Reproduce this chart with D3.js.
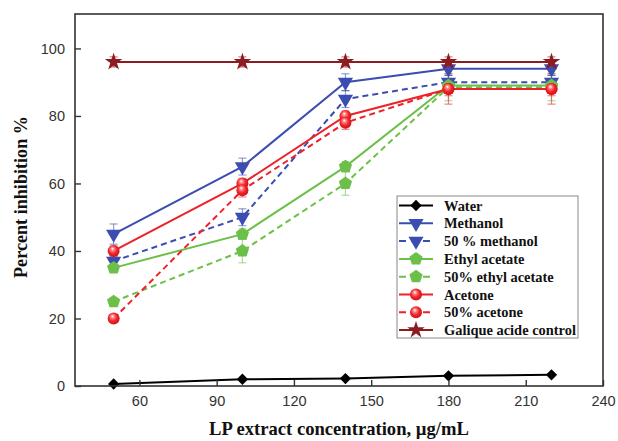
<!DOCTYPE html>
<html>
<head>
<meta charset="utf-8">
<script src="https://cdn.jsdelivr.net/npm/d3@7"></script>
<style>
  body { margin: 0; background: #fff; }
  svg { display: block; }
  .tick_label { font-family: "Liberation Sans", Arial, sans-serif; font-size: 14.5px; fill: #333; }
  .axis_title { font-family: "Liberation Serif", "Times New Roman", serif; font-weight: bold; font-size: 15px; fill: #111; }
  .legend_text { font-family: "Liberation Serif", "Times New Roman", serif; font-weight: bold; font-size: 13px; fill: #111; }
</style>
</head>
<body>
<svg id="chart" width="618" height="441"></svg>
<script>
// concentrations (µg/mL)
const concentrations = [50, 100, 140, 180, 220]

const xTicks = [60, 90, 120, 150, 180, 210, 240]
const yTicks = [0, 20, 40, 60, 80, 100]

// percent inhibition
const water          = [0.6, 2, 2.2, 3, 3.3]
const methanol       = [45, 65, 90, 94, 94]
const methanol50     = [37, 50, 85, 90, 90]
const ethylAcetate   = [35, 45, 65, 89, 89]
const ethylAcetate50 = [25, 40, 60, 88.5, 88.5]
const acetone        = [40, 60, 80, 88, 88]
const acetone50      = [20, 58, 78, 88, 88]
const galique        = [96, 96, 96, 96, 96]

// error bars (±)
const waterErr          = [0, 0, 0, 0, 0]
const methanolErr       = [3, 2.5, 2.5, 2, 2]
const methanol50Err     = [1.5, 2.5, 2.5, 2, 2]
const ethylAcetateErr   = [1, 1.5, 1.5, 2, 2]
const ethylAcetate50Err = [1, 3.5, 3.5, 4, 4]
const acetoneErr        = [1.5, 1.5, 1.5, 2, 2]
const acetone50Err      = [1, 2, 2, 4.5, 4.5]
const galiqueErr        = [1.5, 1.5, 1.5, 1.5, 1.5]

const seriesNames = ["Water", "Methanol", "50 % methanol", "Ethyl acetate",
    "50% ethyl acetate", "Acetone", "50% acetone", "Galique acide control"]

/**
 * Margins of the visualization.
 */
const margin = { top: 14, bottom: 55, left: 75, right: 15 }

let svg = d3.select("#chart")
let width = 618
let height = 441

const xScale = d3.scaleLinear()
    .domain([35, 240])
    .range([margin.left, width - margin.right])

const yScale = d3.scaleLinear()
    .domain([0, 110.2])
    .range([height - margin.bottom, margin.top])

/**
 * Custom pentagon symbol
 */
const symbolPentagon = {
    draw(context, size) {
        const r = Math.sqrt(size / 2.378)
        for (let i = 0; i < 5; i++) {
            const a = -Math.PI / 2 + i * 2 * Math.PI / 5
            const x = r * Math.cos(a), y = r * Math.sin(a)
            if (i === 0) context.moveTo(x, y); else context.lineTo(x, y)
        }
        context.closePath()
    }
}

const blue = "#3b4db0"
const green = "#6cc04a"
const red = "#ec2227"
const darkred = "#8e1b1f"

const series = [
    { name: seriesNames[0], values: water, err: waterErr, color: "#000", dash: null, shape: "diamond" },
    { name: seriesNames[1], values: methanol, err: methanolErr, color: blue, dash: null, shape: "triangle" },
    { name: seriesNames[2], values: methanol50, err: methanol50Err, color: blue, dash: "6,4", shape: "triangle" },
    { name: seriesNames[3], values: ethylAcetate, err: ethylAcetateErr, color: green, dash: null, shape: "pentagon" },
    { name: seriesNames[4], values: ethylAcetate50, err: ethylAcetate50Err, color: green, dash: "6,4", shape: "pentagon" },
    { name: seriesNames[5], values: acetone, err: acetoneErr, color: red, dash: null, shape: "circle" },
    { name: seriesNames[6], values: acetone50, err: acetone50Err, color: red, dash: "6,4", shape: "circle" },
    { name: seriesNames[7], values: galique, err: galiqueErr, color: darkred, dash: null, shape: "star" },
]

let defs = svg.append("defs")
let grad = defs.append("radialGradient").attr("id", "ball")
    .attr("cx", "0.45").attr("cy", "0.45").attr("r", "0.6")
    .attr("fx", "0.4").attr("fy", "0.3")
grad.append("stop").attr("offset", "0%").attr("stop-color", "#fff")
grad.append("stop").attr("offset", "25%").attr("stop-color", "#ff8080")
grad.append("stop").attr("offset", "60%").attr("stop-color", red)
grad.append("stop").attr("offset", "100%").attr("stop-color", "#c81418")

function drawMarker(g, shape, color, x, y) {
    if (shape === "circle") {
        g.append("circle").attr("cx", x).attr("cy", y).attr("r", 6)
            .attr("fill", "url(#ball)")
        return
    }
    let sym, size, rot = 0
    if (shape === "diamond") { sym = d3.symbolSquare; size = 64; rot = 45 }
    if (shape === "triangle") { sym = d3.symbolTriangle; size = 100; rot = 180 }
    if (shape === "pentagon") { sym = symbolPentagon; size = 115 }
    if (shape === "star") { sym = d3.symbolStar; size = 95 }
    g.append("path")
        .attr("d", d3.symbol().type(sym).size(size)())
        .attr("transform", `translate(${x},${y}) rotate(${rot})`)
        .attr("fill", color)
}

/**
 * Error bars
 */
let g_err = svg.append("g")
series.forEach(s => {
    s.values.forEach((v, i) => {
        const e = s.err[i]
        if (!e) return
        const x = xScale(concentrations[i])
        g_err.append("line")
            .attr("x1", x).attr("x2", x)
            .attr("y1", yScale(v - e)).attr("y2", yScale(v + e))
            .attr("stroke", s.color).attr("stroke-opacity", 0.55).attr("stroke-width", 1.2)
        ;[v - e, v + e].forEach(c => {
            g_err.append("line")
                .attr("x1", x - 4).attr("x2", x + 4)
                .attr("y1", yScale(c)).attr("y2", yScale(c))
                .attr("stroke", s.color).attr("stroke-opacity", 0.55).attr("stroke-width", 1.2)
        })
    })
})

/**
 * Lines
 */
const line = d3.line()
    .x((d, i) => xScale(concentrations[i]))
    .y(d => yScale(d))

let g_lines = svg.append("g")
series.forEach(s => {
    g_lines.append("path")
        .datum(s.values)
        .attr("d", line)
        .attr("fill", "none")
        .attr("stroke", s.color)
        .attr("stroke-width", 2)
        .attr("stroke-dasharray", s.dash)
})

/**
 * Markers
 */
let g_markers = svg.append("g")
series.forEach(s => {
    s.values.forEach((v, i) => {
        drawMarker(g_markers, s.shape, s.color, xScale(concentrations[i]), yScale(v))
    })
})

/**
 * Frame and axes (ticks pointing inward)
 */
svg.append("rect")
    .attr("x", margin.left).attr("y", margin.top)
    .attr("width", width - margin.left - margin.right)
    .attr("height", height - margin.top - margin.bottom)
    .attr("fill", "none").attr("stroke", "#333").attr("stroke-width", 1.6)

let x_axis = d3.axisBottom(xScale).tickValues(xTicks).tickSizeInner(-6).tickSizeOuter(0).tickPadding(10)
let g_x = svg.append("g")
    .attr("transform", `translate(0,${height - margin.bottom})`)
    .call(x_axis)
g_x.select(".domain").remove()
g_x.selectAll("line").attr("stroke", "#333").attr("stroke-width", 1.4)
g_x.selectAll("text").attr("class", "tick_label").attr("font-size", null).attr("font-family", null).attr("fill", null)

let y_axis = d3.axisLeft(yScale).tickValues(yTicks).tickSizeInner(-6).tickSizeOuter(0).tickPadding(10)
let g_y = svg.append("g")
    .attr("transform", `translate(${margin.left},0)`)
    .call(y_axis)
g_y.select(".domain").remove()
g_y.selectAll("line").attr("stroke", "#333").attr("stroke-width", 1.4)
g_y.selectAll("text").attr("class", "tick_label").attr("font-size", null).attr("font-family", null).attr("fill", null)

// size a text so its width matches the reference
function fitText(sel, target) {
    const w = sel.node().getComputedTextLength()
    const fs = parseFloat(getComputedStyle(sel.node()).fontSize)
    sel.style("font-size", (fs * target / w).toFixed(2) + "px")
}

/**
 * Axis titles
 */
let x_title = svg.append("text")
    .attr("class", "axis_title")
    .attr("x", (margin.left + width - margin.right) / 2)
    .attr("y", 435)
    .attr("text-anchor", "middle")
    .text("LP extract concentration, µg/mL")
fitText(x_title, 260)

let y_title = svg.append("text")
    .attr("class", "axis_title")
    .attr("transform", `translate(27,${(margin.top + height - margin.bottom) / 2 - 3}) rotate(-90)`)
    .attr("text-anchor", "middle")
    .text("Percent inhibition %")
fitText(y_title, 162)

/**
 * Legend
 */
let g_legend = svg.append("g").attr("transform", "translate(397,196)")
g_legend.append("rect")
    .attr("width", 181).attr("height", 142)
    .attr("fill", "#fff").attr("stroke", "#888").attr("stroke-width", 1)

let legendTexts = []
series.forEach((s, i) => {
    const y = 9.5 + i * 17.8
    g_legend.append("line")
        .attr("x1", 2).attr("x2", 36).attr("y1", y).attr("y2", y)
        .attr("stroke", s.color).attr("stroke-width", 2)
        .attr("stroke-dasharray", s.dash ? "7,5" : null)
    drawMarker(g_legend, s.shape, s.color, 19, y)
    legendTexts.push(g_legend.append("text")
        .attr("class", "legend_text")
        .attr("x", 47).attr("y", y + 5)
        .text(s.name))
})
// scale legend font by the longest entry
const longest = legendTexts[7]
const lw = longest.node().getComputedTextLength()
const lfs = 13 * 132 / lw
legendTexts.forEach(t => t.style("font-size", lfs.toFixed(2) + "px"))
</script>
</body>
</html>
